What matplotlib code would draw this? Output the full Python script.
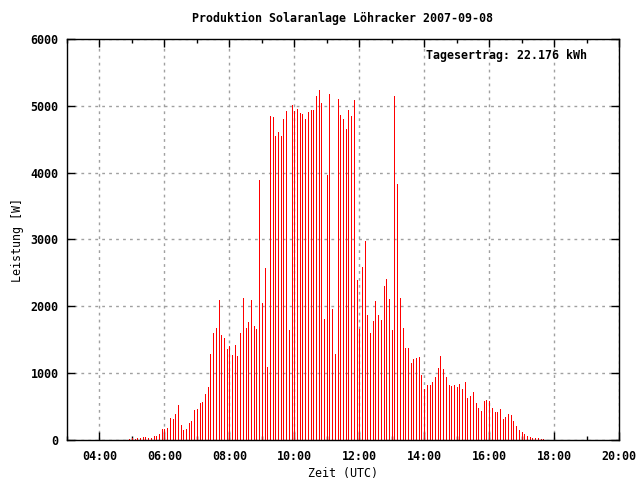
import numpy as np
import pandas as pd
import matplotlib
matplotlib.use('Agg')
import matplotlib.pyplot as plt
import matplotlib.dates as mdates
from matplotlib.transforms import IdentityTransform

# Leistung in W, 5-Minuten-Werte ab 04:55 UTC
leistung = [
    15, 25, 15, 30, 30, 45, 45, 30, 30, 60,
    60, 90, 165, 170, 180, 330, 315, 390, 525, 225,
    150, 165, 255, 285, 450, 465, 555, 570, 690, 795,
    1290, 1605, 1680, 2100, 1575, 1530, 1365, 1410, 1275, 1425,
    1260, 1605, 2130, 1680, 1770, 2100, 1710, 1665, 3895, 2055,
    2575, 1095, 4855, 4840, 4555, 4615, 4555, 4810, 4930, 1650,
    5005, 4930, 4960, 4900, 4885, 4810, 4915, 4945, 4945, 5140,
    5230, 5035, 1815, 3970, 5170, 1965, 1290, 5095, 4870, 4810,
    4660, 4945, 4855, 5080, 2400, 1665, 2590, 2980, 1875, 1605,
    1785, 2085, 1875, 1800, 2305, 2410, 2110, 1650, 5140, 3835,
    2130, 1680, 1380, 1380, 1155, 1215, 1230, 1245, 975, 765,
    825, 825, 870, 945, 1080, 1260, 1065, 945, 825, 810,
    825, 795, 840, 765, 870, 630, 660, 720, 555, 480,
    435, 585, 600, 585, 480, 420, 420, 465, 315, 345,
    390, 375, 285, 210, 150, 120, 90, 60, 45, 30,
    30, 30, 15, 15,
]
start = '2007-09-08 04:55'
titel = 'Produktion Solaranlage Löhracker 2007-09-08'
ertrag = 'Tagesertrag: 22.176 kWh'

zeit = pd.date_range(start, periods=len(leistung), freq='5min')

plt.rcParams['font.family'] = ['DejaVu Sans Mono']
plt.rcParams['font.weight'] = 'bold'
plt.rcParams['font.size'] = 8.4

fig = plt.figure(figsize=(6.4, 4.8), dpi=100)
ax = fig.add_axes([67 / 640, 40 / 480, 552 / 640, 401 / 480])

ax.vlines(zeit, 0, leistung, colors='#ff0000', linewidth=0.72, antialiased=False, zorder=3)

ax.set_xlim(pd.Timestamp('2007-09-08 03:00'), pd.Timestamp('2007-09-08 20:00'))
ax.set_ylim(0, 6000)
ax.xaxis.set_major_locator(mdates.HourLocator(byhour=range(0, 24, 2)))
ax.xaxis.set_minor_locator(mdates.HourLocator())
ax.xaxis.set_major_formatter(mdates.DateFormatter('%H:%M'))
ax.set_yticks(np.arange(0, 6001, 1000))

ax.grid(True, which='major', color='#a0a0a0', linestyle=(0, (2, 3)), linewidth=1)
ax.set_axisbelow(True)
ax.tick_params(which='both', direction='in', top=True, right=True, width=1, color='black')
ax.tick_params(which='major', length=6)
ax.tick_params(axis='x', which='major', pad=7)
ax.tick_params(axis='y', which='major', pad=6)
ax.tick_params(which='minor', length=3)
for s in ax.spines.values():
    s.set_linewidth(1)
    s.set_zorder(4)

ax.set_title(titel, pad=12, fontweight='bold', fontsize=8.4)
ax.set_xlabel('Zeit (UTC)', labelpad=3)
ax.set_ylabel('Leistung [W]', labelpad=5)
ax.text(426, 480 - 56, ertrag, transform=IdentityTransform(), va='center')

fig.savefig('out.png', dpi=100)
